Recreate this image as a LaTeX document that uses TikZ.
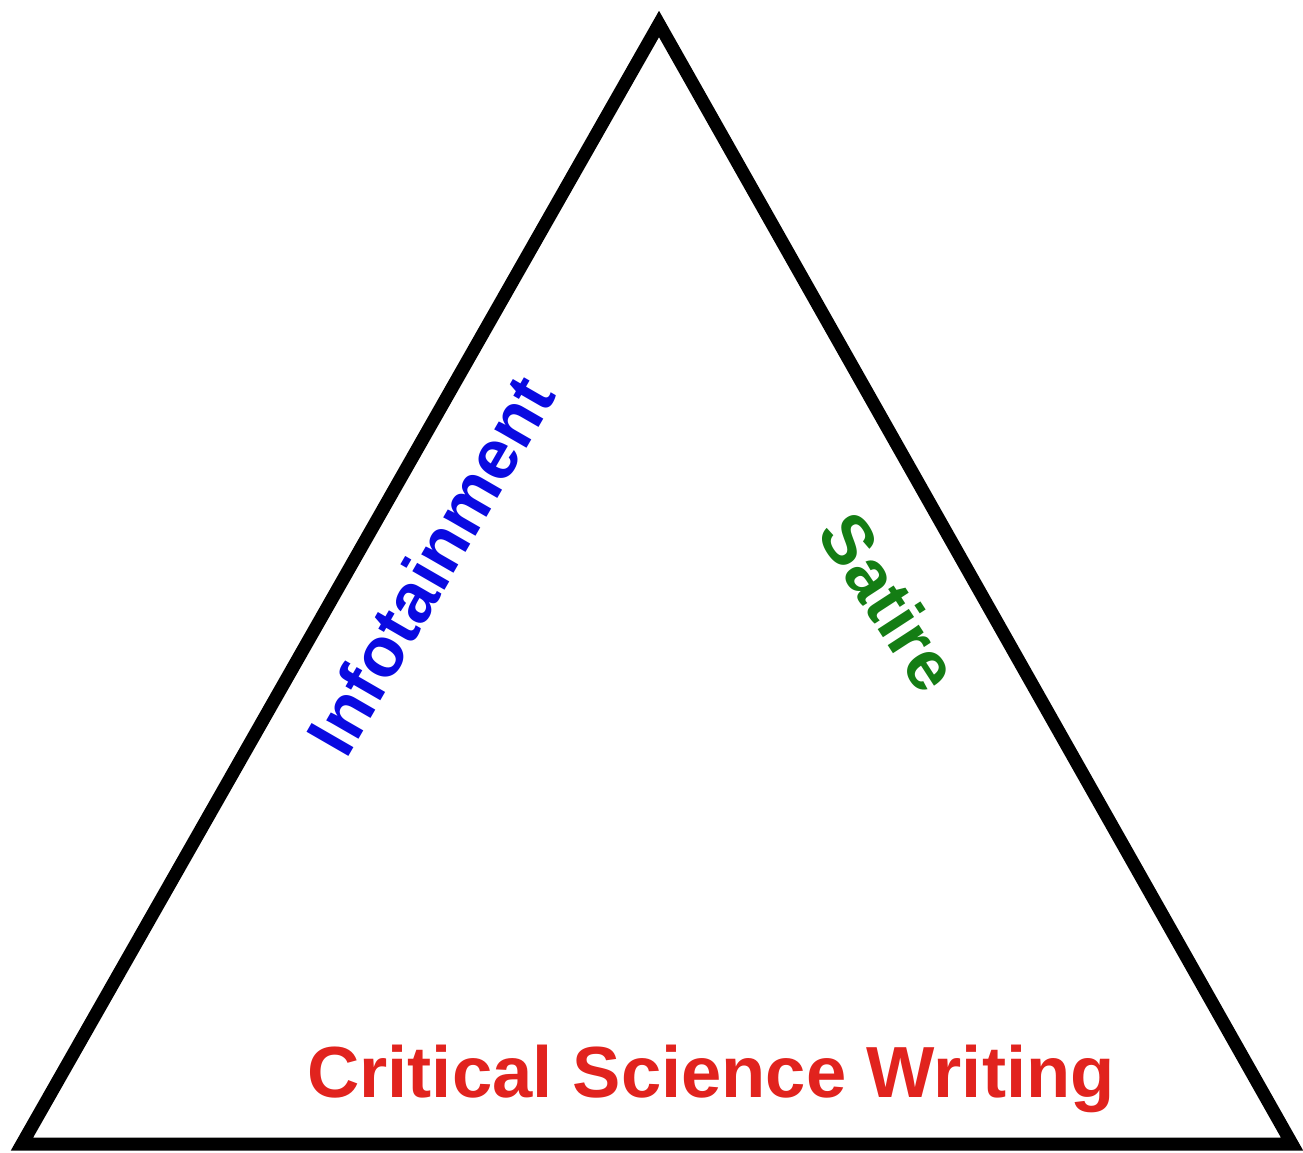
\documentclass[tikz,border=0pt]{standalone}
\usepackage{fontspec}
\setmainfont{Liberation Sans}
\usepackage{xcolor}
\usetikzlibrary{calc}
\definecolor{infoblue}{RGB}{10,10,225}
\definecolor{satgreen}{RGB}{20,125,20}
\definecolor{critred}{RGB}{225,35,30}
\tikzset{
  sideln/.style = {black, line width=3.7pt, line join=miter},
  lbltxt/.style = {font=\bfseries\fontsize{20}{24}\selectfont, inner sep=0pt}
}

\begin{document}
\begin{tikzpicture}
  \useasboundingbox (0,0) rectangle (13.03,11.52);
  \coordinate (L) at (0.22,0.08);
  \coordinate (R) at (12.92,0.08);
  \coordinate (T) at (6.59,11.28);
  \draw[sideln] (L) -- (T) -- (R) -- cycle;
  \node[lbltxt,infoblue,rotate=60] (info) at (4.30,5.87) {Infotainment};
  \node[lbltxt,satgreen,rotate=-57] (sat) at (8.90,5.50) {Satire};
  \node[lbltxt,critred,anchor=base,font=\bfseries\fontsize{20.6}{24}\selectfont]
    (crit) at (7.11,0.55) {Critical Science Writing};
\end{tikzpicture}
\end{document}
